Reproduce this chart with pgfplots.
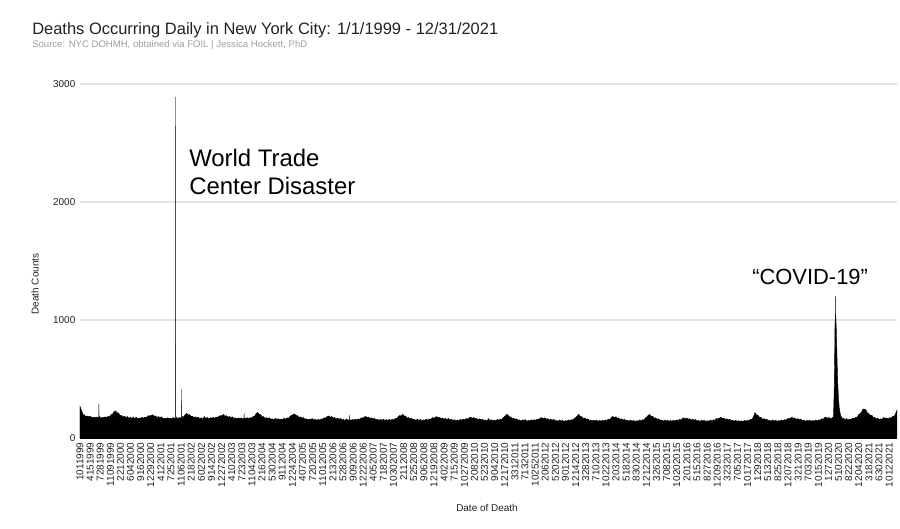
\documentclass[border=0pt]{standalone}
\usepackage{fontspec}
\setmainfont{Liberation Sans}
\usepackage{pgfplots}
\pgfplotsset{compat=1.18}
\definecolor{gridgray}{HTML}{E3E3E3}
\definecolor{subgray}{HTML}{A0A0A0}
\definecolor{txt}{HTML}{222222}
\begin{document}
\begin{tikzpicture}[x=0.75bp,y=0.75bp]
\path[use as bounding box, fill=white] (-80,-91) rectangle (820,438);
\begin{axis}[
  at={(0,0)}, anchor=south west,
  scale only axis, width=612.75bp, height=265.5bp,
  xmin=0, xmax=8401, ymin=0, ymax=3000,
  axis lines*=left,
  y axis line style={draw=none},
  x axis line style={black, line width=0.8pt},
  major tick length=0pt,
  ymajorgrids, grid style={gridgray, line width=0.8pt},
  ytick={0,1000,2000,3000},
  yticklabels={0,1000,2000,3000},
  scaled y ticks=false,
  xtick={0,104,...,8320},
  xticklabels={1011999,4151999,7281999,11091999,2212000,6042000,9162000,12292000,4122001,7252001,11062001,2182002,6022002,9142002,12272002,4102003,7232003,11042003,2162004,5302004,9112004,12242004,4072005,7202005,11012005,2132006,5282006,9092006,12222006,4052007,7182007,10302007,2112008,5252008,9062008,12192008,4022009,7152009,10272009,2082010,5232010,9042010,12172010,3312011,7132011,10252011,2062012,5202012,9012012,12142012,3282013,7102013,10222013,2032014,5182014,8302014,12122014,3262015,7082015,10202015,2012016,5152016,8272016,12092016,3232017,7052017,10172017,1292018,5132018,8252018,12072018,3212019,7032019,10152019,1272020,5102020,8222020,12042020,3182021,6302021,10122021},
  xticklabel style={rotate=90, anchor=east, font=\fontsize{7.5}{8}\selectfont, text=txt},
  yticklabel style={font=\fontsize{7.5}{8}\selectfont, text=txt},
  clip=true,
]
\addplot[fill=black, draw=black, line width=0.3pt] table[x expr={(\thisrow{yr}-1999)*365.25+\thisrow{hf}*15.22}, y=v] {
yr hf v
1999 0 268
1999 1 234
1999 2 199
1999 3 196
1999 4 181
1999 5 186
1999 6 182
1999 7 184
1999 8 175
1999 9 177
1999 10 172
1999 11 178
1999 12 174
1999 12.74 176
1999 12.8 290
1999 12.86 176
1999 13 185
1999 14 168
1999 15 175
1999 16 173
1999 17 179
1999 18 172
1999 19 184
1999 20 182
1999 21 198
1999 22 202
1999 23 223
2000 0 230
2000 1 214
2000 2 212
2000 3 192
2000 4 193
2000 5 177
2000 6 186
2000 7 174
2000 8 182
2000 9 166
2000 10 177
2000 11 163
2000 12 178
2000 13 163
2000 14 176
2000 15 162
2000 16 170
2000 17 167
2000 18 175
2000 19 168
2000 20 178
2000 21 174
2000 22 189
2000 23 187
2001 0 191
2001 1 197
2001 2 185
2001 3 188
2001 4 174
2001 5 182
2001 6 172
2001 7 179
2001 8 166
2001 9 169
2001 10 164
2001 11 171
2001 12 164
2001 13 169
2001 14 161
2001 15 174
2001 16 163
2001 16.62 168
2001 16.66 2890
2001 16.70 170
2001 17 178
2001 18 163
2001 19 173
2001 20 169
2001 20.69 172
2001 20.73 415
2001 20.77 174
2001 21 181
2001 22 178
2001 23 197
2002 0 209
2002 1 196
2002 2 199
2002 3 183
2002 4 186
2002 5 172
2002 6 180
2002 7 170
2002 8 177
2002 9 162
2002 10 172
2002 11 160
2002 12 182
2002 13 164
2002 14 175
2002 15 160
2002 16 172
2002 17 168
2002 18 175
2002 19 167
2002 20 178
2002 21 174
2002 22 187
2002 23 187
2003 0 192
2003 1 199
2003 2 185
2003 3 189
2003 4 175
2003 5 183
2003 6 174
2003 7 179
2003 8 166
2003 9 171
2003 10 161
2003 11 171
2003 12 164
2003 13 170
2003 14 161
2003 14.79 167
2003 14.83 208
2003 14.87 168
2003 15 170
2003 16 166
2003 17 172
2003 18 163
2003 19 173
2003 20 170
2003 21 183
2003 22 185
2003 23 207
2004 0 217
2004 1 201
2004 2 198
2004 3 180
2004 4 181
2004 5 166
2004 6 173
2004 7 164
2004 8 171
2004 9 158
2004 10 163
2004 11 153
2004 12 167
2004 13 159
2004 14 163
2004 15 154
2004 16 161
2004 17 156
2004 18 168
2004 19 159
2004 20 171
2004 21 168
2004 22 185
2004 23 192
2005 0 199
2005 1 204
2005 2 189
2005 3 190
2005 4 174
2005 5 179
2005 6 168
2005 7 173
2005 8 159
2005 9 163
2005 10 153
2005 11 161
2005 12 158
2005 13 165
2005 14 151
2005 15 159
2005 16 149
2005 17 160
2005 18 151
2005 19 162
2005 20 159
2005 21 171
2005 22 169
2005 23 183
2006 0 187
2006 1 176
2006 2 182
2006 3 169
2006 4 174
2006 5 161
2006 6 169
2006 7 159
2006 8 166
2006 9 153
2006 10 158
2006 11 148
2006 12 162
2006 13 150
2006 13.97 156
2006 14.01 192
2006 14.05 157
2006 15 149
2006 16 157
2006 17 152
2006 18 160
2006 19 152
2006 20 162
2006 21 158
2006 22 171
2006 23 169
2007 0 176
2007 1 184
2007 2 173
2007 3 178
2007 4 164
2007 5 171
2007 6 161
2007 7 167
2007 8 154
2007 9 159
2007 10 149
2007 11 158
2007 12 151
2007 13 158
2007 14 149
2007 15 156
2007 16 148
2007 17 160
2007 18 148
2007 19 159
2007 20 154
2007 21 167
2007 22 165
2007 23 181
2008 0 191
2008 1 185
2008 2 202
2008 3 187
2008 4 186
2008 5 169
2008 6 173
2008 7 162
2008 8 168
2008 9 154
2008 10 159
2008 11 148
2008 12 161
2008 13 148
2008 14 159
2008 15 145
2008 16 154
2008 17 150
2008 18 160
2008 19 151
2008 20 161
2008 21 157
2008 22 172
2008 23 169
2009 0 174
2009 1 182
2009 2 171
2009 3 175
2009 4 162
2009 5 170
2009 6 160
2009 7 167
2009 8 154
2009 9 166
2009 10 153
2009 11 160
2009 12 148
2009 13 155
2009 14 145
2009 15 153
2009 16 147
2009 17 158
2009 18 150
2009 19 160
2009 20 154
2009 21 165
2009 22 161
2009 23 173
2010 0 177
2010 1 166
2010 2 174
2010 3 163
2010 4 167
2010 5 154
2010 6 163
2010 7 153
2010 8 160
2010 9 147
2010 10 153
2010 11 143
2010 12 164
2010 13 148
2010 14 155
2010 15 143
2010 16 152
2010 17 147
2010 18 158
2010 19 150
2010 20 160
2010 21 156
2010 22 173
2010 23 182
2011 0 198
2011 1 198
2011 2 179
2011 3 180
2011 4 164
2011 5 169
2011 6 158
2011 7 163
2011 8 149
2011 9 154
2011 10 144
2011 11 153
2011 12 151
2011 13 155
2011 14 142
2011 15 150
2011 16 144
2011 17 155
2011 18 146
2011 19 156
2011 20 150
2011 21 161
2011 22 157
2011 23 168
2012 0 173
2012 1 163
2012 2 171
2012 3 160
2012 4 164
2012 5 151
2012 6 160
2012 7 151
2012 8 158
2012 9 145
2012 10 150
2012 11 140
2012 12 154
2012 13 142
2012 14 152
2012 15 139
2012 16 148
2012 17 143
2012 18 154
2012 19 145
2012 20 156
2012 21 152
2012 22 168
2012 23 172
2013 0 188
2013 1 201
2013 2 183
2013 3 182
2013 4 164
2013 5 170
2013 6 158
2013 7 163
2013 8 149
2013 9 153
2013 10 143
2013 11 152
2013 12 146
2013 13 152
2013 14 140
2013 15 149
2013 16 141
2013 17 152
2013 18 142
2013 19 153
2013 20 148
2013 21 160
2013 22 157
2013 23 173
2014 0 183
2014 1 172
2014 2 180
2014 3 167
2014 4 170
2014 5 156
2014 6 163
2014 7 153
2014 8 159
2014 9 146
2014 10 151
2014 11 141
2014 12 153
2014 13 141
2014 14 151
2014 15 138
2014 16 147
2014 17 142
2014 18 153
2014 19 144
2014 20 155
2014 21 152
2014 22 170
2014 23 179
2015 0 194
2015 1 199
2015 2 183
2015 3 184
2015 4 168
2015 5 171
2015 6 158
2015 7 163
2015 8 149
2015 9 153
2015 10 143
2015 11 152
2015 12 144
2015 13 151
2015 14 141
2015 15 149
2015 16 141
2015 17 152
2015 18 143
2015 19 153
2015 20 147
2015 21 158
2015 22 153
2015 23 165
2016 0 171
2016 1 161
2016 2 170
2016 3 159
2016 4 164
2016 5 151
2016 6 159
2016 7 150
2016 8 157
2016 9 144
2016 10 149
2016 11 139
2016 12 152
2016 13 144
2016 14 150
2016 15 138
2016 16 147
2016 17 142
2016 18 153
2016 19 144
2016 20 155
2016 21 151
2016 22 165
2016 23 162
2017 0 168
2017 1 176
2017 2 165
2017 3 169
2017 4 156
2017 5 163
2017 6 153
2017 7 159
2017 8 146
2017 9 151
2017 10 141
2017 11 150
2017 12 141
2017 13 148
2017 14 138
2017 15 146
2017 16 139
2017 17 150
2017 18 141
2017 19 151
2017 20 147
2017 21 159
2017 22 157
2017 23 179
2018 0 215
2018 1 196
2018 2 194
2018 3 177
2018 4 176
2018 5 159
2018 6 165
2018 7 154
2018 8 160
2018 9 146
2018 10 151
2018 11 141
2018 12 154
2018 13 142
2018 14 152
2018 15 139
2018 16 148
2018 17 143
2018 18 154
2018 19 145
2018 20 155
2018 21 151
2018 22 165
2018 23 163
2019 0 168
2019 1 176
2019 2 165
2019 3 170
2019 4 157
2019 5 165
2019 6 155
2019 7 161
2019 8 147
2019 9 152
2019 10 142
2019 11 151
2019 12 144
2019 13 151
2019 14 141
2019 15 149
2019 16 142
2019 17 153
2019 18 144
2019 19 154
2019 20 150
2019 21 162
2019 22 159
2019 23 172
2020 0 177
2020 1 166
2020 2 174
2020 3 163
2020 4 168
2020 5 178
2020 5.25 250
2020 5.6 420
2020 5.9 700
2020 6.1 950
2020 6.3 1020
2020 6.45 1050
2020 6.5 1200
2020 6.55 1040
2020 6.75 1000
2020 7 920
2020 7.25 800
2020 7.6 620
2020 8 460
2020 8.45 340
2020 9 255
2020 9.6 210
2020 10 190
2020 11 165
2020 12 168
2020 13 154
2020 14 165
2020 15 152
2020 16 161
2020 17 157
2020 18 169
2020 19 162
2020 20 175
2020 21 174
2020 22 197
2020 23 207
2021 0 218
2021 1 246
2021 2 245
2021 3 240
2021 4 212
2021 5 207
2021 6 190
2021 7 193
2021 8 174
2021 9 175
2021 10 161
2021 11 168
2021 12 156
2021 13 163
2021 14 159
2021 15 174
2021 16 165
2021 17 170
2021 18 161
2021 19 172
2021 20 168
2021 21 183
2021 22 183
2021 23 205
2021 23.95 235
} \closedcycle;
\end{axis}
% titles and labels (coordinates in reference pixels relative to axis origin)
\node[anchor=base west, inner sep=0pt, text=txt, font=\fontsize{12.4}{14}\selectfont] at (-48,403) {Deaths Occurring Daily in New York City: 1/1/1999 - 12/31/2021};
\node[anchor=base west, inner sep=0pt, text=subgray, font=\fontsize{7.2}{9}\selectfont] at (-48,390) {Source: NYC DOHMH, obtained via FOIL | Jessica Hockett, PhD};
\node[rotate=90, inner sep=0pt, text=txt, font=\fontsize{7.5}{9}\selectfont] at (-45,154) {Death Counts};
\node[inner sep=0pt, text=txt, font=\fontsize{7.5}{9}\selectfont] at (407,-70) {Date of Death};
\node[anchor=base west, inner sep=0pt, text=black, font=\fontsize{18}{21}\selectfont] at (109,271) {World Trade};
\node[anchor=base west, inner sep=0pt, text=black, font=\fontsize{18}{21}\selectfont] at (109,243) {Center Disaster};
\node[anchor=base west, inner sep=0pt, text=black, font=\fontsize{16.5}{20}\selectfont] at (672,153) {“COVID-19”};
\end{tikzpicture}
\end{document}
